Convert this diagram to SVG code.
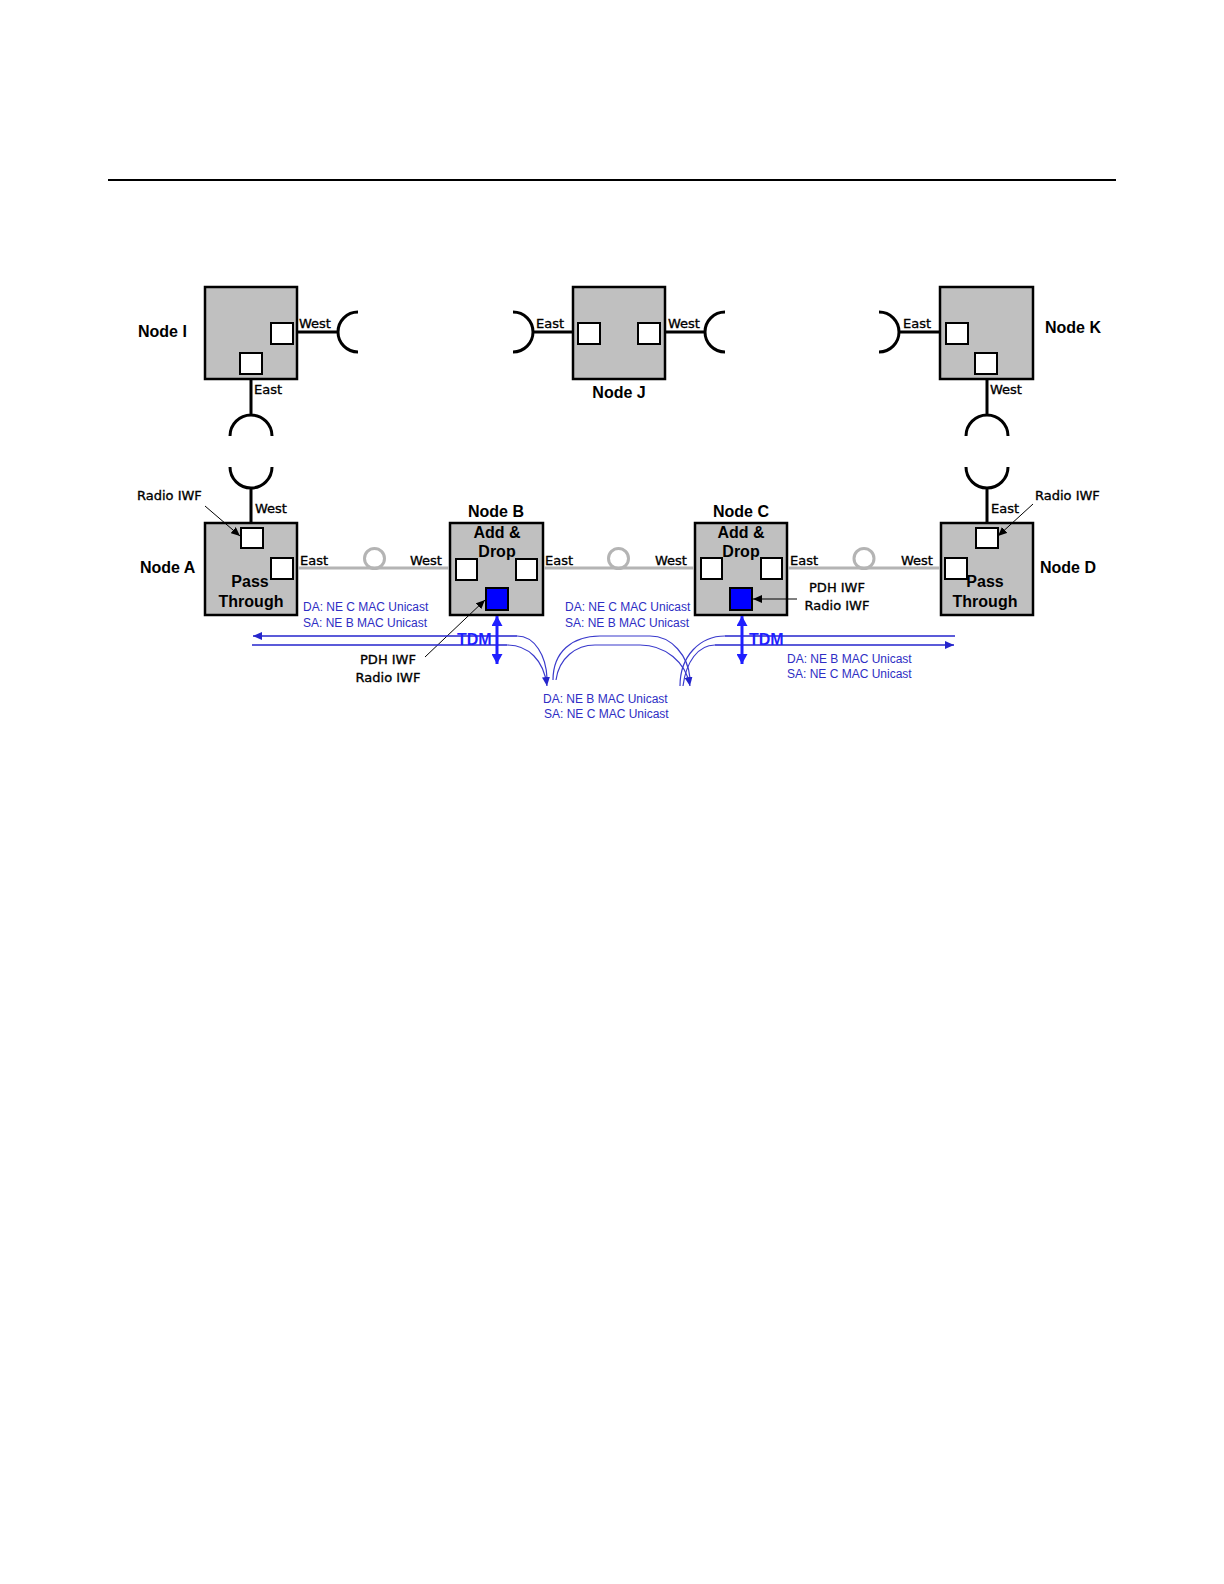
<svg xmlns="http://www.w3.org/2000/svg" width="1224" height="1584" viewBox="0 0 1224 1584">
<style>
.box{fill:#c0c0c0;stroke:#000;stroke-width:2.5}
.port{fill:#fff;stroke:#000;stroke-width:2}
.blue{fill:#0000ff;stroke:#000;stroke-width:2}
.wire{fill:none;stroke:#000;stroke-width:3}
.fiber{fill:none;stroke:#b4b4b4;stroke-width:3}
.name{font-family:"Liberation Sans",Arial,sans-serif;font-weight:bold;font-size:16px;fill:#000}
.lbl{font-family:"DejaVu Sans",Verdana,sans-serif;font-size:13px;fill:#000;stroke:#000;stroke-width:0.35}
.mac{font-family:"Liberation Sans",Arial,sans-serif;font-size:12px;fill:#2e2ec4}
.tdm{font-family:"Liberation Sans",Arial,sans-serif;font-weight:bold;font-size:16px;fill:#1f1fff}
.ptr{fill:none;stroke:#000;stroke-width:1}
.bl{fill:none;stroke:#2525cc;stroke-width:1.5}
.bc{fill:none;stroke:#3a3acc;stroke-width:1.2}
.tv{fill:none;stroke:#1f1fff;stroke-width:3}
</style>
<defs>
<marker id="ka" markerUnits="userSpaceOnUse" markerWidth="10" markerHeight="8" refX="9" refY="4" orient="auto"><path d="M0,0 L9,4 L0,8 Z" fill="#000"/></marker>
<marker id="ba" markerUnits="userSpaceOnUse" markerWidth="10" markerHeight="8" refX="9" refY="4" orient="auto"><path d="M0,0 L9,4 L0,8 Z" fill="#2525cc"/></marker>
<marker id="tva" markerUnits="userSpaceOnUse" markerWidth="11" markerHeight="11" refX="10" refY="5.5" orient="auto-start-reverse"><path d="M0,0 L10,5.5 L0,11 Z" fill="#1f1fff"/></marker>
</defs>

<line x1="108" y1="180" x2="1116" y2="180" stroke="#000" stroke-width="2"/>

<g id="node-i">
  <rect class="box" x="205" y="287" width="92" height="92"/>
  <rect class="port" x="271" y="323" width="22" height="21"/>
  <rect class="port" x="240" y="353" width="22" height="21"/>
  <text class="name" x="138" y="337">Node I</text>
  <text class="lbl" x="299" y="328">West</text>
  <text class="lbl" x="254" y="394">East</text>
</g>

<g id="node-j">
  <rect class="box" x="573" y="287" width="92" height="92"/>
  <rect class="port" x="578" y="323" width="22" height="21"/>
  <rect class="port" x="638" y="323" width="22" height="21"/>
  <text class="name" x="619" y="398" text-anchor="middle">Node J</text>
  <text class="lbl" x="536" y="328">East</text>
  <text class="lbl" x="668" y="328">West</text>
</g>

<g id="node-k">
  <rect class="box" x="940" y="287" width="93" height="92"/>
  <rect class="port" x="946" y="323" width="22" height="21"/>
  <rect class="port" x="975" y="353" width="22" height="21"/>
  <text class="name" x="1045" y="333">Node K</text>
  <text class="lbl" x="903" y="328">East</text>
  <text class="lbl" x="990" y="394">West</text>
</g>

<g id="node-a">
  <rect class="box" x="205" y="523" width="92" height="92"/>
  <rect class="port" x="241" y="528" width="22" height="20"/>
  <rect class="port" x="271" y="558" width="22" height="21"/>
  <text class="name" x="140" y="573">Node A</text>
  <text class="name" x="250" y="587" text-anchor="middle">Pass</text>
  <text class="name" x="251" y="607" text-anchor="middle">Through</text>
  <text class="lbl" x="255" y="513">West</text>
  <text class="lbl" x="137" y="500">Radio IWF</text>
  <text class="lbl" x="300" y="565">East</text>
</g>

<g id="node-b">
  <rect class="box" x="450" y="523" width="93" height="92"/>
  <rect class="port" x="456" y="559" width="21" height="21"/>
  <rect class="port" x="516" y="559" width="21" height="21"/>
  <rect class="blue" x="486" y="588" width="22" height="22"/>
  <text class="name" x="496" y="517" text-anchor="middle">Node B</text>
  <text class="name" x="497" y="538" text-anchor="middle">Add &amp;</text>
  <text class="name" x="497" y="557" text-anchor="middle">Drop</text>
  <text class="lbl" x="410" y="565">West</text>
  <text class="lbl" x="545" y="565">East</text>
  <text class="lbl" x="388" y="664" text-anchor="middle">PDH IWF</text>
  <text class="lbl" x="388" y="682" text-anchor="middle">Radio IWF</text>
</g>

<g id="node-c">
  <rect class="box" x="695" y="523" width="92" height="92"/>
  <rect class="port" x="701" y="558" width="21" height="21"/>
  <rect class="port" x="761" y="558" width="21" height="21"/>
  <rect class="blue" x="730" y="588" width="22" height="22"/>
  <text class="name" x="741" y="517" text-anchor="middle">Node C</text>
  <text class="name" x="741" y="538" text-anchor="middle">Add &amp;</text>
  <text class="name" x="741" y="557" text-anchor="middle">Drop</text>
  <text class="lbl" x="655" y="565">West</text>
  <text class="lbl" x="790" y="565">East</text>
  <text class="lbl" x="837" y="592" text-anchor="middle">PDH IWF</text>
  <text class="lbl" x="837" y="610" text-anchor="middle">Radio IWF</text>
</g>

<g id="node-d">
  <rect class="box" x="941" y="523" width="92" height="92"/>
  <rect class="port" x="976" y="528" width="22" height="20"/>
  <rect class="port" x="945" y="558" width="22" height="21"/>
  <text class="name" x="1040" y="573">Node D</text>
  <text class="name" x="985" y="587" text-anchor="middle">Pass</text>
  <text class="name" x="985" y="607" text-anchor="middle">Through</text>
  <text class="lbl" x="991" y="513">East</text>
  <text class="lbl" x="1035" y="500">Radio IWF</text>
  <text class="lbl" x="901" y="565">West</text>
</g>

<g id="connectors">
  <path class="wire" d="M297,332 H338 M358,312 A20,20 0 0 0 358,352"/>
  <path class="wire" d="M251,379 V415 M230,436 A21,21 0 0 1 272,436 M230,467 A21,21 0 0 0 272,467 M251,488 V523"/>
  <path class="wire" d="M573,332 H533 M513,312 A20,20 0 0 1 513,352"/>
  <path class="wire" d="M665,332 H705 M725,312 A20,20 0 0 0 725,352"/>
  <path class="wire" d="M940,332 H899 M879,312 A20,20 0 0 1 879,352"/>
  <path class="wire" d="M987,379 V415 M966,436 A21,21 0 0 1 1008,436 M966,467 A21,21 0 0 0 1008,467 M987,488 V523"/>
  <path class="fiber" d="M298,568 H449 M544,568 H694 M788,568 H940"/>
  <circle class="fiber" cx="374.5" cy="558.5" r="10"/>
  <circle class="fiber" cx="618.5" cy="558.5" r="10"/>
  <circle class="fiber" cx="864" cy="558.5" r="10"/>
  <line class="ptr" x1="205" y1="506" x2="240" y2="536" marker-end="url(#ka)"/>
  <line class="ptr" x1="1033" y1="504" x2="998" y2="536" marker-end="url(#ka)"/>
  <line class="ptr" x1="425" y1="657" x2="485" y2="600" marker-end="url(#ka)"/>
  <line class="ptr" x1="797" y1="599" x2="753" y2="599" marker-end="url(#ka)"/>
  <path class="bl" d="M517,636 H253" marker-end="url(#ba)"/>
  <path class="bl" d="M252,645 H507"/>
  <path class="bc" d="M517,636 C535,636 546,656 547,678"/>
  <path class="bc" d="M507,645 C528,645 544,660 547,686" marker-end="url(#ba)"/>
  <path class="bc" d="M553,680 C553,652 572,636 600,636 H650 C672,636 688,656 690,678"/>
  <path class="bc" d="M556,680 C559,658 576,645 595,645 H640 C665,645 686,662 690,686" marker-end="url(#ba)"/>
  <path class="bc" d="M680,686 C680,656 700,636 725,636"/>
  <path class="bc" d="M683,686 C686,662 698,645 715,645"/>
  <path class="bl" d="M725,636 H955"/>
  <path class="bl" d="M715,645 H954" marker-end="url(#ba)"/>
  <line class="tv" x1="497" y1="616" x2="497" y2="664" marker-start="url(#tva)" marker-end="url(#tva)"/>
  <line class="tv" x1="742" y1="616" x2="742" y2="664" marker-start="url(#tva)" marker-end="url(#tva)"/>
</g>

<g id="traffic-labels">
  <text class="mac" x="303" y="611">DA: NE C MAC Unicast</text>
  <text class="mac" x="303" y="627">SA: NE B MAC Unicast</text>
  <text class="mac" x="565" y="611">DA: NE C MAC Unicast</text>
  <text class="mac" x="565" y="627">SA: NE B MAC Unicast</text>
  <text class="mac" x="787" y="663">DA: NE B MAC Unicast</text>
  <text class="mac" x="787" y="678">SA: NE C MAC Unicast</text>
  <text class="mac" x="543" y="703">DA: NE B MAC Unicast</text>
  <text class="mac" x="544" y="718">SA: NE C MAC Unicast</text>
  <text class="tdm" x="457" y="645">TDM</text>
  <text class="tdm" x="749" y="645">TDM</text>
</g>
</svg>
